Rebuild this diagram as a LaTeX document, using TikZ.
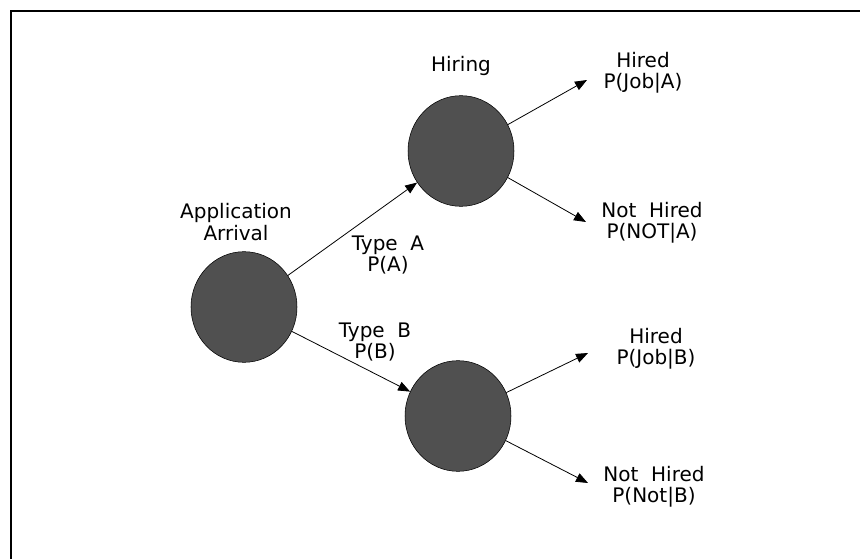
\documentclass[tikz,border=0pt]{standalone}
\usepackage{fontspec}
\setmainfont{DejaVu Sans}
\usetikzlibrary{shapes.geometric,arrows.meta}
\definecolor{stagegray}{HTML}{505050}
\tikzset{stage/.style={ellipse, fill=stagegray, draw=black, line width=0.4pt, minimum width=79.5pt, minimum height=83pt, inner sep=0pt},
  txt/.style={align=center, font=\fontsize{15}{16}\selectfont, inner sep=0pt},
  arr/.style={-{Triangle[length=9pt,width=7pt]}, line width=0.6pt}}

\begin{document}
\begin{tikzpicture}[x=0.75pt, y=-0.75pt]
  \useasboundingbox (0,0) rectangle (860,559);
  \draw [line width=1.5pt] (11,559) -- (11,11) -- (860,11);
  \node[stage] (arrival) at (244,307) {};
  \node[stage] (hireA) at (461,151) {};
  \node[stage] (hireB) at (458,416) {};
  \node[txt] (arrivallbl) at (236,222) {Application\\Arrival};
  \node[txt] (hiringlbl) at (461,66) {Hiring};
  \node[txt] (typeA) at (388,255) {Type\ \ A\\P(A)};
  \node[txt] (typeB) at (375,342) {Type\ \ B\\P(B)};
  \node[txt] (jobA) at (643,73) {Hired\\P(Job|A)};
  \node[txt] (notA) at (652,223) {Not\ \ Hired\\P(NOT|A)};
  \node[txt] (jobB) at (656,349) {Hired\\P(Job|B)};
  \node[txt] (notB) at (654,487) {Not\ \ Hired\\P(Not|B)};
  \coordinate (tipJobA) at (587,80);
  \coordinate (tipNotA) at (586,222);
  \coordinate (tipJobB) at (588,353);
  \coordinate (tipNotB) at (588,483);
  \draw[arr] (arrival) -- (hireA);
  \draw[arr] (arrival) -- (hireB);
  \draw[arr] (hireA) -- (tipJobA);
  \draw[arr] (hireA) -- (tipNotA);
  \draw[arr] (hireB) -- (tipJobB);
  \draw[arr] (hireB) -- (tipNotB);
\end{tikzpicture}
\end{document}
